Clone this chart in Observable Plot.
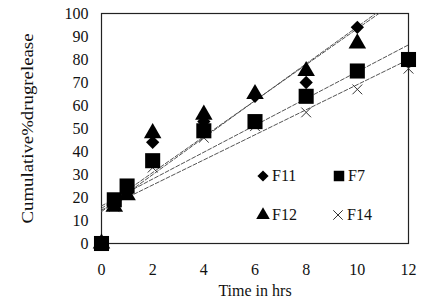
<!DOCTYPE html>
<html><head><meta charset="utf-8">
<script src="https://cdn.jsdelivr.net/npm/d3@7"></script>
<script src="https://cdn.jsdelivr.net/npm/@observablehq/plot@0.6"></script>
<style>
body{margin:0;background:#fff;}
#wrap{position:relative;width:422px;height:298px;overflow:hidden;font-family:"Times New Roman","Liberation Serif","DejaVu Serif",serif;}
.leg{position:absolute;font-size:16px;color:#111;display:flex;align-items:center;white-space:nowrap;}
.leg svg{margin-right:1px;}
</style>
</head><body>
<div id="wrap"></div>
<script>
const times = [0, 0.5, 1, 2, 4, 6, 8, 10, 12];
const F7  = [0, 19, 25, 36, 49, 53, 64, 75, 80];
const F11 = [0, 17, 22, 44, 53, 64, 70, 94, null];
const F12 = [0, 16, 21, 48, 56, 65, 75, 87, null];
const F14 = [0, 16, 22, 33, 46, 51, 57, 67, 76];
const seriesNames = ["F11", "F7", "F12", "F14"];
const xTicks = [0, 2, 4, 6, 8, 10, 12];
const yTicks = [0, 10, 20, 30, 40, 50, 60, 70, 80, 90, 100];

const FONT = '"Times New Roman","Liberation Serif","DejaVu Serif",serif';
const seriesVals = {F11, F7, F12, F14};
const symbols = {F11: "diamond2", F7: "square", F12: "triangle", F14: "times"};
const rs = {F11: 6, F7: 8.5, F12: 6.5, F14: 4.5};

function pts(name){
  return times.map((t,i)=>({t, v: seriesVals[name][i], s: name})).filter(d=>d.v!=null);
}
function fit(name){
  const p = pts(name);
  const mx = d3.mean(p,d=>d.t), my = d3.mean(p,d=>d.v);
  const sxy = d3.sum(p,d=>(d.t-mx)*(d.v-my)), sxx = d3.sum(p,d=>(d.t-mx)**2);
  const b = sxy/sxx, a = my - b*mx;
  const x0 = d3.min(times), x1 = d3.max(times);
  return [{t:x0, v:a+b*x0, s:name},{t:x1, v:a+b*x1, s:name}];
}

const marks = [Plot.frame({stroke:"#222", strokeWidth:1.2})];
for (const n of seriesNames) {
  marks.push(Plot.line(fit(n), {x:"t", y:"v", stroke:"#555", strokeWidth:1, strokeDasharray:"4,2", clip:true}));
}
for (const n of ["F14","F7","F12","F11"]) {
  const isStroke = symbols[n]==="times";
  marks.push(Plot.dot(pts(n), {x:"t", y:"v", symbol: ()=>symbols[n], r: rs[n],
    fill: isStroke ? "none" : "#000", stroke: isStroke ? "#333" : "none", strokeWidth: 1}));
}

const chart = Plot.plot({
  width: 422, height: 298,
  marginLeft: 101, marginRight: 14, marginTop: 13, marginBottom: 55,
  style: {fontFamily: FONT, fontSize: "16px", color: "#111", background:"#fff"},
  x: {domain: [0, 12], ticks: xTicks, tickSize: 0, tickPadding: 20, label: "Time in hrs", labelAnchor: "center", labelArrow: "none", labelOffset: 52},
  y: {domain: [0, 100], ticks: yTicks, tickSize: 0, tickPadding: 13, label: "Cumulative%drugrelease", labelAnchor: "center", labelArrow: "none", labelOffset: 80},
  marks
});
chart.style.fontFamily = FONT;
document.getElementById("wrap").appendChild(chart);
chart.querySelectorAll("text").forEach(t => t.style.fontFamily = FONT);
const yl = chart.querySelector('g[aria-label="y-axis label"] text');
if (yl) { yl.setAttribute("textLength", "190"); yl.setAttribute("lengthAdjust", "spacingAndGlyphs"); }

// legend overlay
const legPos = [
  {s:"F11", left:255, top:167},
  {s:"F7",  left:331, top:167},
  {s:"F12", left:255, top:206},
  {s:"F14", left:330, top:206}
];
const symMap = {diamond2: d3.symbolDiamond2, square: d3.symbolSquare, triangle: d3.symbolTriangle, times: d3.symbolTimes};
for (const l of legPos) {
  const div = document.createElement("div");
  div.className = "leg";
  div.style.left = l.left + "px";
  div.style.top = l.top + "px";
  const sym = symbols[l.s];
  const isStroke = sym==="times";
  const path = d3.symbol(symMap[sym], isStroke ? 60 : (sym==="square"? 110 : 80))();
  div.innerHTML = `<svg width="16" height="18" viewBox="-8 -9 16 18"><path d="${path}" fill="${isStroke?'none':'#000'}" stroke="${isStroke?'#333':'none'}" stroke-width="1"/></svg><span>${l.s}</span>`;
  document.getElementById("wrap").appendChild(div);
}
</script>
</body></html>
